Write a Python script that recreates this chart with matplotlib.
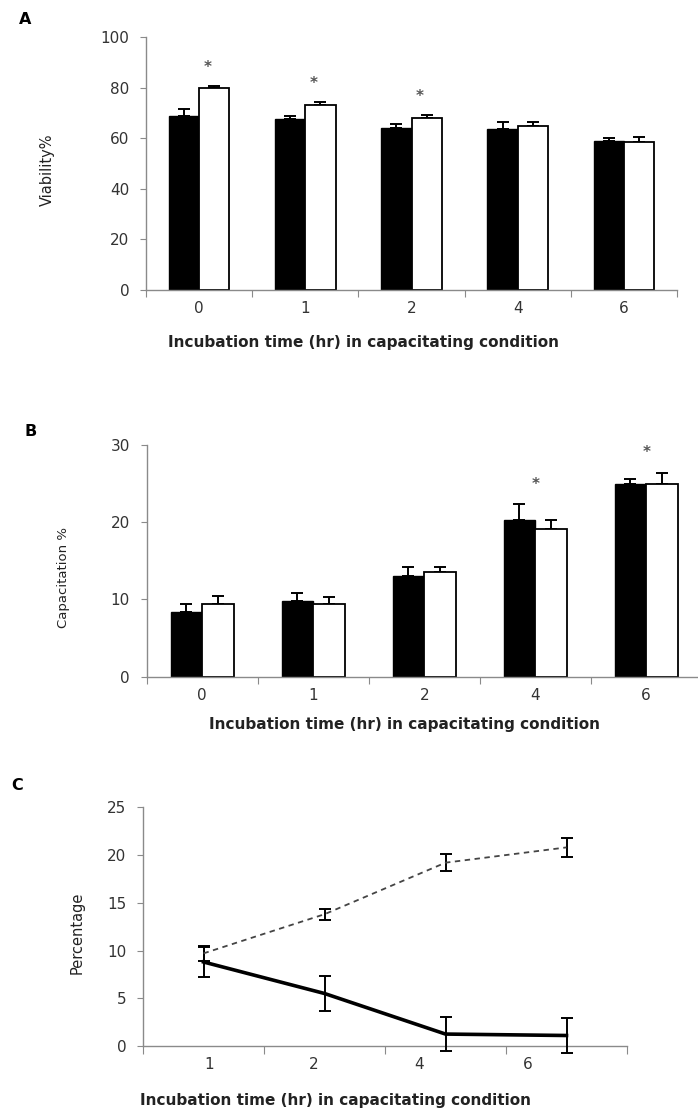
import numpy as np
import matplotlib
matplotlib.use('Agg')
import matplotlib.pyplot as plt

# data
times_ab = ['0', '1', '2', '4', '6']
via_black = [68.9, 67.5, 64.2, 63.5, 59.0]
via_black_err = [2.6, 1.3, 1.5, 3.0, 1.2]
via_white = [79.7, 73.1, 67.9, 64.9, 58.5]
via_white_err = [1.0, 1.2, 1.4, 1.6, 2.1]
via_stars = [0, 1, 2]

cap_black = [8.4, 9.75, 13.0, 20.25, 24.9]
cap_black_err = [1.0, 1.1, 1.2, 2.1, 0.7]
cap_white = [9.4, 9.4, 13.6, 19.15, 25.0]
cap_white_err = [1.1, 0.9, 0.6, 1.1, 1.4]
cap_stars = [3, 4]

times_c = ['1', '2', '4', '6']
c_dashed = [9.7, 13.8, 19.2, 20.8]
c_dashed_err = [0.8, 0.6, 0.9, 1.0]
c_solid = [8.8, 5.5, 1.25, 1.1]
c_solid_err = [1.6, 1.8, 1.8, 1.8]

plt.rcParams['font.family'] = 'DejaVu Sans'
W, H = 698, 1112
fig = plt.figure(figsize=(W / 100, H / 100), dpi=100)
spine_col = '#8a8a8a'
txt_col = '#333333'


def px(x0, x1, ytop, ybot):
    return [x0 / W, 1 - ybot / H, (x1 - x0) / W, (ybot - ytop) / H]


def style(ax):
    for s in ['top', 'right']:
        ax.spines[s].set_visible(False)
    for s in ['left', 'bottom']:
        ax.spines[s].set_color(spine_col)
        ax.spines[s].set_linewidth(1.0)
    ax.tick_params(axis='y', length=4, color=spine_col, labelcolor=txt_col, labelsize=11, pad=8)
    ax.tick_params(axis='x', which='major', length=5, color=spine_col)
    ax.tick_params(axis='x', which='minor', length=0, labelcolor=txt_col, labelsize=11, pad=8)


def bar_panel(ax, black, black_err, white, white_err, stars, star_off, star_dx, ylim, yticks):
    x = np.arange(len(times_ab))
    w = 0.285
    ax.bar(x - w / 2, black, w, color='black', edgecolor='black', linewidth=1.0, zorder=2)
    ax.bar(x + w / 2, white, w, color='white', edgecolor='black', linewidth=1.3, zorder=2)
    ax.errorbar(x - w / 2, black, yerr=[np.zeros(len(x)), black_err], fmt='none',
                ecolor='black', elinewidth=1.4, capsize=4, capthick=1.4, zorder=1)
    ax.errorbar(x + w / 2, white, yerr=[np.zeros(len(x)), white_err], fmt='none',
                ecolor='black', elinewidth=1.4, capsize=4, capthick=1.4, zorder=1)
    for i in stars:
        top = max(black[i] + black_err[i], white[i] + white_err[i])
        ax.text(i + star_dx, top + star_off, '*', ha='center', va='center', fontsize=11,
                fontweight='bold', color='#555555')
    ax.set_xlim(-0.5, len(x) - 0.5)
    ax.set_ylim(*ylim)
    ax.set_yticks(yticks)
    ax.set_xticks(np.arange(len(x) + 1) - 0.5)
    ax.set_xticklabels([])
    ax.set_xticks(x, minor=True)
    ax.set_xticklabels(times_ab, minor=True)
    style(ax)


xlab = 'Incubation time (hr) in capacitating condition'

# panel A
axA = fig.add_axes(px(146, 677, 37, 290))
bar_panel(axA, via_black, via_black_err, via_white, via_white_err, via_stars, 7.2, 0.08,
          (0, 100), [0, 20, 40, 60, 80, 100])
fig.text(25 / W, 1 - 20 / H, 'A', fontsize=11.5, fontweight='bold', ha='center', va='center')
fig.text(47 / W, 1 - 170 / H, 'Viability%', rotation=90, fontsize=10.5, color='#222222', ha='center', va='center')
fig.text(364 / W, 1 - 343 / H, xlab, fontsize=11, fontweight='bold', color='#222222', ha='center', va='center')

# panel B
axB = fig.add_axes(px(146.7, 701.7, 445, 676.7))
bar_panel(axB, cap_black, cap_black_err, cap_white, cap_white_err, cap_stars, 2.6, 0.0,
          (0, 30), [0, 10, 20, 30])
fig.text(31 / W, 1 - 432 / H, 'B', fontsize=11.5, fontweight='bold', ha='center', va='center')
fig.text(63 / W, 1 - 577 / H, 'Capacitation %', rotation=90, fontsize=9.5, color='#222222', ha='center', va='center')
fig.text(405 / W, 1 - 725 / H, xlab, fontsize=11, fontweight='bold', color='#222222', ha='center', va='center')

# panel C
axC = fig.add_axes(px(143, 627, 807.3, 1046))
xc = np.arange(len(times_c))
axC.errorbar(xc, c_dashed, yerr=c_dashed_err, color='#444444', linestyle=(0, (3, 2.5)), linewidth=1.3,
             ecolor='black', elinewidth=1.4, capsize=4.5, capthick=1.4, clip_on=False, zorder=3)
axC.errorbar(xc, c_solid, yerr=c_solid_err, color='black', linestyle='-', linewidth=2.6,
             ecolor='black', elinewidth=1.4, capsize=4.5, capthick=1.4, clip_on=False, zorder=3)
axC.set_xlim(-0.5, len(xc) - 0.5)
axC.set_ylim(0, 25)
axC.set_yticks([0, 5, 10, 15, 20, 25])
axC.set_xticks(np.arange(len(xc) + 1) - 0.5)
axC.set_xticklabels([])
axC.set_xticks([0.05, 0.91, 1.78, 2.68], minor=True)
axC.set_xticklabels(times_c, minor=True)
style(axC)
axC.tick_params(axis='x', which='major', length=6)
fig.text(17 / W, 1 - 786 / H, 'C', fontsize=11.5, fontweight='bold', ha='center', va='center')
fig.text(77 / W, 1 - 933 / H, 'Percentage', rotation=90, fontsize=10.5, color='#222222', ha='center', va='center')
fig.text(336 / W, 1 - 1101 / H, xlab, fontsize=11, fontweight='bold', color='#222222', ha='center', va='center')

fig.savefig('out.png', dpi=100)
